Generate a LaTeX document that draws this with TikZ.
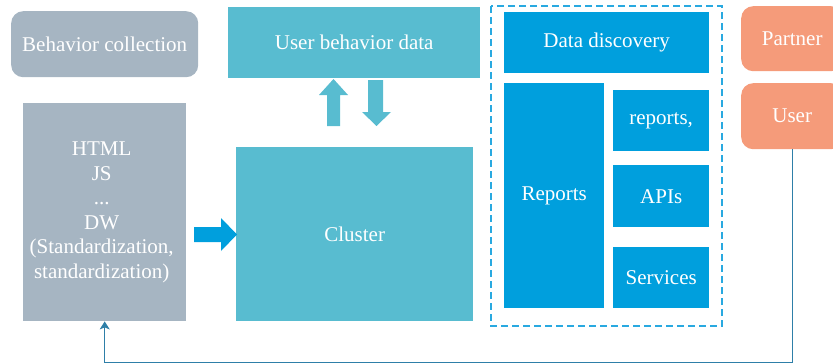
\documentclass[tikz,border=0pt]{standalone}
\usepackage{fontspec}
\setmainfont{Liberation Serif}
\usetikzlibrary{arrows.meta}
\definecolor{cgray}{HTML}{A6B5C2}
\definecolor{cteal}{HTML}{58BCD0}
\definecolor{cblue}{HTML}{009FDD}
\definecolor{csalmon}{HTML}{F59B7A}
\definecolor{cline}{HTML}{2E7FA8}
\definecolor{cdash}{HTML}{29A9E0}
\begin{document}
\begin{tikzpicture}[x=1pt,y=-1pt,
  box/.style={anchor=north west,inner sep=0pt,text=white,font=\fontsize{21}{24.5}\selectfont,align=center},
  gbox/.style={box,fill=cgray},
  tbox/.style={box,fill=cteal},
  bbox/.style={box,fill=cblue},
  sbox/.style={box,fill=csalmon,rounded corners=12pt},
]
\useasboundingbox (0,0) rectangle (833,364);
\clip (0,0) rectangle (833,364);
% left column
\node[gbox,rounded corners=12pt,minimum width=187pt,minimum height=66pt] (bc) at (11,11) {Behavior collection};
\node[gbox,minimum width=163pt,minimum height=218pt] (html) at (23,103) {};
\node[text=white,font=\fontsize{21}{24.5}\selectfont,align=center,inner sep=0pt] (htmltxt) at ([xshift=-3pt]html.center) {HTML\\JS\\...\\DW\\(Standardization,\\standardization)};
% middle
\node[tbox,minimum width=252pt,minimum height=71pt] (ubd) at (228,7) {User behavior data};
\node[tbox,minimum width=237pt,minimum height=174pt] (cl) at (236,147) {Cluster};
% up / down arrows
\fill[cteal] (327,126) -- (327,95) -- (319,95) -- (333.5,79) -- (348,95) -- (340,95) -- (340,126) -- cycle;
\fill[cteal] (368,80) -- (368,112) -- (362,112) -- (376.5,126) -- (391,112) -- (383,112) -- (383,80) -- cycle;
% right arrow
\fill[cblue] (194,227) -- (221,227) -- (221,218) -- (237,234.5) -- (221,251) -- (221,242) -- (194,242) -- cycle;
% dashed group
\draw[cdash,line width=1.2pt,dash pattern=on 7pt off 4pt] (491,6) rectangle (722,326);
\node[bbox,minimum width=205pt,minimum height=61pt] (dd) at (504,12) {Data discovery};
\node[bbox,minimum width=100pt,minimum height=225pt] (rep) at (504,83) {Reports};
\node[bbox,minimum width=96pt,minimum height=61pt] (rc) at (613,90) {reports,};
\node[bbox,minimum width=96pt,minimum height=62pt] (api) at (613,165) {APIs};
\node[bbox,minimum width=96pt,minimum height=61pt] (srv) at (613,247) {Services};
% right column
\node[sbox,minimum width=102pt,minimum height=65pt] (pt) at (741,6) {Partner};
\node[sbox,minimum width=102pt,minimum height=66pt] (us) at (741,83) {User};
% feedback connector
\draw[cline,line width=1.2pt,-{Stealth[length=8pt,width=10pt,inset=2pt]}] (us.south) |- ([yshift=-41pt]html.south) -- (html.south);
\end{tikzpicture}
\end{document}
